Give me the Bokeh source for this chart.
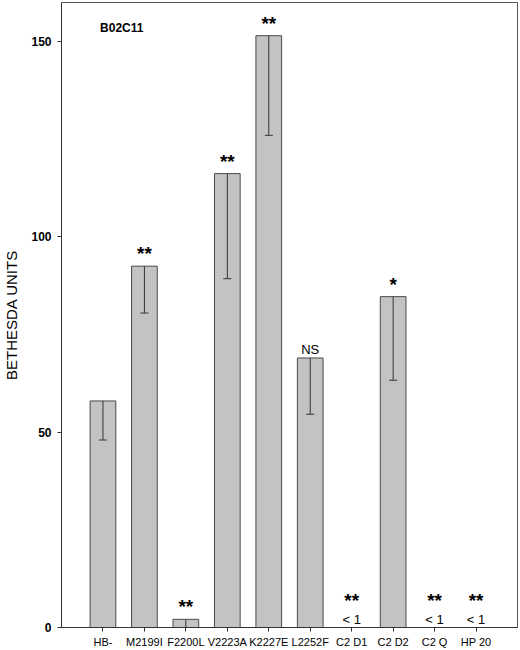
from bokeh.plotting import figure
from bokeh.models import ColumnDataSource, Range1d, FixedTicker, Whisker, TeeHead, Label
from bokeh.core.properties import value
from bokeh.embed import file_html
from bokeh.resources import INLINE

# Inhibitor titres per construct
labels = ["HB-", "M2199I", "F2200L", "V2223A", "K2227E", "L2252F", "C2 D1", "C2 D2", "C2 Q", "HP 20"]
units = [58, 92.5, 2.1, 116.2, 151.5, 69, 0, 84.7, 0, 0]
err_low = [48, 80.5, 0, 89.3, 126, 54.6, None, 63.3, None, None]
signif = ["", "**", "**", "**", "**", "NS", "**", "*", "**", "**"]
below_one = ["", "", "", "", "", "", "< 1", "", "< 1", "< 1"]
y_ticks = [0, 50, 100, 150]

FONT = "Liberation Sans"
idx = list(range(len(labels)))

p = figure(width=520, height=650, output_backend="svg", toolbar_location=None,
           x_range=Range1d(-1, len(labels)), y_range=Range1d(0, 160),
           min_border_left=56, min_border_right=3, min_border_top=2, min_border_bottom=21)
p.background_fill_color = "white"
p.border_fill_color = "white"
p.outline_line_color = "#555555"
p.outline_line_width = 1
p.xgrid.visible = False
p.ygrid.visible = False

bars = ColumnDataSource(dict(x=idx, top=units))
p.vbar(x="x", top="top", width=0.62, bottom=0, source=bars,
       fill_color="#c3c3c3", line_color="#4a4a4a", line_width=1)

# one-sided (lower) error bars drawn over the bars
ex = [i for i, v in zip(idx, err_low) if v is not None]
eu = [units[i] for i in ex]
el = [err_low[i] for i in ex]
err = ColumnDataSource(dict(x=ex, upper=eu, lower=el))
p.add_layout(Whisker(source=err, base="x", upper="upper", lower="lower",
                     upper_head=None, level="overlay",
                     lower_head=TeeHead(size=8, line_color="#333333", line_width=1),
                     line_color="#333333", line_width=1))

# significance marks above bars
star_src = ColumnDataSource(dict(
    x=[i for i in idx if signif[i]],
    y=[units[i] for i in idx if signif[i]],
    t=[signif[i] for i in idx if signif[i]],
    off=[-17 if below_one[i] else (-1 if signif[i] == "NS" else -2) for i in idx if signif[i]],
    fs=["13px" if signif[i] == "NS" else "19px" for i in idx if signif[i]],
    fw=["normal" if signif[i] == "NS" else "bold" for i in idx if signif[i]],
))
p.text(x="x", y="y", text="t", y_offset="off", source=star_src,
       text_align="center", text_baseline="bottom", text_font=value(FONT),
       text_font_size="fs", text_font_style="fw", text_color="black")

lt_src = ColumnDataSource(dict(
    x=[i for i in idx if below_one[i]],
    y=[units[i] for i in idx if below_one[i]],
    t=[below_one[i] for i in idx if below_one[i]],
))
p.text(x="x", y="y", text="t", y_offset=-1, source=lt_src,
       text_align="center", text_baseline="bottom", text_font=value(FONT),
       text_font_size="13px", text_color="black")

p.add_layout(Label(x=-0.07, y=153.5, text="B02C11", text_font=FONT, text_font_size="12px",
                   text_font_style="bold", text_color="black", text_baseline="middle"))

p.xaxis.ticker = FixedTicker(ticks=idx)
p.xaxis.major_label_overrides = {i: l for i, l in zip(idx, labels)}
p.xaxis.major_label_text_font = FONT
p.xaxis.major_label_text_font_size = "11px"
p.xaxis.major_label_text_color = "black"
p.xaxis.major_label_standoff = 4
p.xaxis.major_tick_out = 4
p.xaxis.major_tick_in = 0
p.xaxis.minor_tick_line_color = None
p.xaxis.axis_line_color = "#333333"
p.xaxis.major_tick_line_color = "#333333"

p.yaxis.ticker = FixedTicker(ticks=y_ticks)
p.yaxis.major_label_text_font = FONT
p.yaxis.major_label_text_font_size = "12px"
p.yaxis.major_label_text_font_style = "bold"
p.yaxis.major_label_text_color = "black"
p.yaxis.major_label_standoff = 6
p.yaxis.major_tick_out = 4
p.yaxis.major_tick_in = 0
p.yaxis.minor_tick_line_color = None
p.yaxis.axis_line_color = "#333333"
p.yaxis.major_tick_line_color = "#333333"
p.yaxis.axis_label = "BETHESDA UNITS"
p.yaxis.axis_label_text_font = FONT
p.yaxis.axis_label_text_font_size = "15px"
p.yaxis.axis_label_text_font_style = "normal"
p.yaxis.axis_label_text_color = "black"
p.yaxis.axis_label_standoff = 8

open("out.html", "w").write(file_html(p, INLINE))
